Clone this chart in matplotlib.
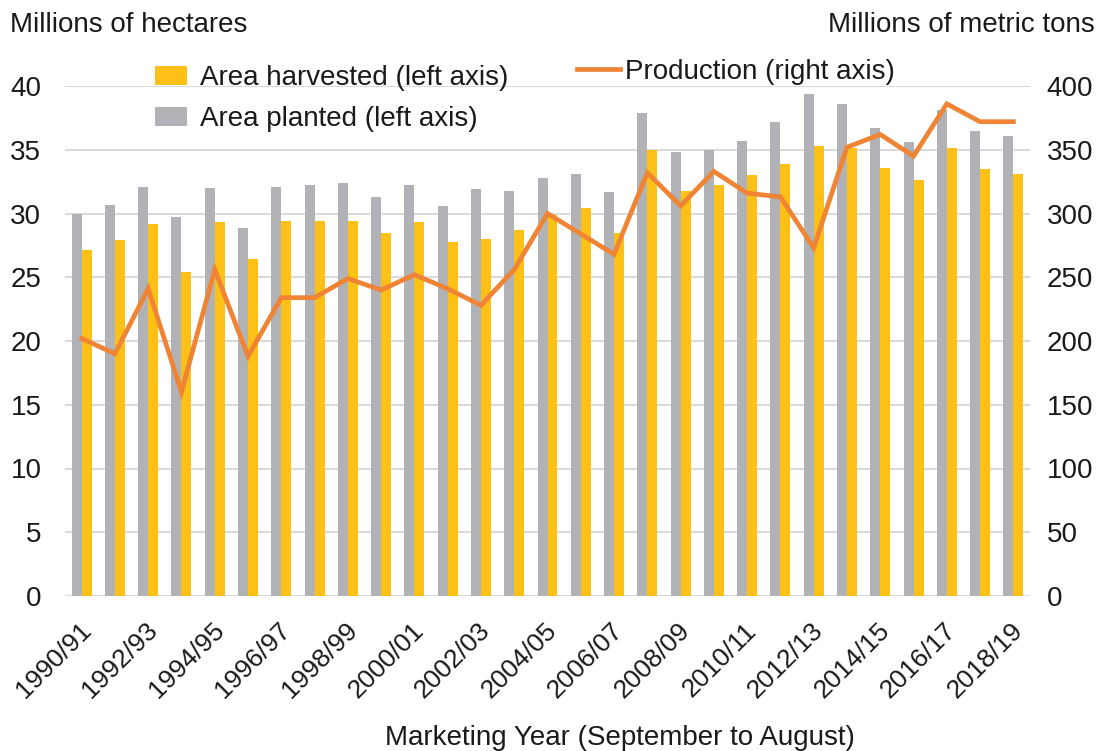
import matplotlib
matplotlib.use("Agg")
import matplotlib.pyplot as plt
import matplotlib.transforms as mtransforms
import numpy as np

years = ["1990/91", "1991/92", "1992/93", "1993/94", "1994/95", "1995/96", "1996/97",
         "1997/98", "1998/99", "1999/00", "2000/01", "2001/02", "2002/03", "2003/04",
         "2004/05", "2005/06", "2006/07", "2007/08", "2008/09", "2009/10", "2010/11",
         "2011/12", "2012/13", "2013/14", "2014/15", "2015/16", "2016/17", "2017/18",
         "2018/19"]
area_planted = [30.0, 30.7, 32.1, 29.7, 32.0, 28.9, 32.1, 32.2, 32.4, 31.3, 32.2, 30.6,
                31.9, 31.8, 32.8, 33.1, 31.7, 37.9, 34.8, 35.0, 35.7, 37.2, 39.4, 38.6,
                36.7, 35.6, 38.1, 36.5, 36.1]
area_harvested = [27.1, 27.9, 29.2, 25.4, 29.3, 26.4, 29.4, 29.4, 29.4, 28.5, 29.3, 27.8,
                  28.0, 28.7, 29.9, 30.4, 28.5, 35.0, 31.8, 32.2, 33.0, 33.9, 35.3, 35.1,
                  33.6, 32.6, 35.1, 33.5, 33.1]
production = [202, 190, 241, 160, 256, 188, 234, 234, 249, 240, 252, 241, 228, 256, 300,
              284, 268, 332, 306, 333, 316, 313, 273, 352, 362, 345, 386, 372, 372]

GREY = "#B1B2B5"
YELLOW = "#FCC016"
ORANGE = "#EE8434"
GRID = "#DADADA"
TXT = "#1a1a1a"
FS = 20

plt.rcParams['font.family'] = ['Liberation Sans', 'DejaVu Sans']

fig = plt.figure(figsize=(10.99, 7.51), dpi=100)
ax = fig.add_axes([65/1099, 1-596/751, (1030-65)/1099, (596-86)/751])
ax2 = ax.twinx()

x = np.arange(len(years))
w = 0.30
b1 = ax.bar(x - w/2, area_planted, width=w, color=GREY, zorder=2, label="Area planted (left axis)")
b2 = ax.bar(x + w/2, area_harvested, width=w, color=YELLOW, zorder=2, label="Area harvested (left axis)")
ln, = ax2.plot(x, production, color=ORANGE, lw=3.4, solid_joinstyle='miter', zorder=3,
               label="Production (right axis)")

ax.set_xlim(-0.5, len(years) - 0.5)
ax.set_ylim(0, 40)
ax2.set_ylim(0, 400)
ax.set_yticks(np.arange(0, 41, 5))
ax2.set_yticks(np.arange(0, 401, 50))
ax.yaxis.grid(True, color=GRID, lw=1.5, zorder=0)
ax.set_axisbelow(True)

for a in (ax, ax2):
    for s in a.spines.values():
        s.set_visible(False)
    a.tick_params(length=0, colors=TXT, labelsize=FS)
ax.tick_params(axis='y', pad=17)
ax2.tick_params(axis='y', pad=12)

ax.set_xticks(x[::2])
ax.set_xticklabels(years[::2], rotation=45, ha='right', va='top', fontsize=19, color=TXT)
ax.tick_params(axis='x', pad=16)
offset = mtransforms.ScaledTranslation(14/100, 0, fig.dpi_scale_trans)
for lab in ax.get_xticklabels():
    lab.set_transform(lab.get_transform() + offset)

fig.text(10/1099, 1-25/751, "Millions of hectares", fontsize=FS, color=TXT, ha='left', va='center')
fig.text(1095/1099, 1-25/751, "Millions of metric tons", fontsize=FS, color=TXT, ha='right', va='center')
fig.text(620/1099, 1-738/751, "Marketing Year (September to August)", fontsize=FS, color=TXT,
         ha='center', va='center')

leg1 = fig.legend([b2, b1], [b2.get_label(), b1.get_label()], loc='upper left',
                  bbox_to_anchor=(130/1099, 1-40/751), frameon=False, fontsize=FS,
                  handlelength=1.15, handleheight=0.7, handletextpad=0.47, labelspacing=0.55,
                  labelcolor=TXT)
leg2 = fig.legend([ln], [ln.get_label()], loc='upper left',
                  bbox_to_anchor=(552/1099, 1-34/751), frameon=False, fontsize=FS,
                  handlelength=1.55, handletextpad=0.18, labelcolor=TXT)

fig.savefig("out.png", dpi=100)
